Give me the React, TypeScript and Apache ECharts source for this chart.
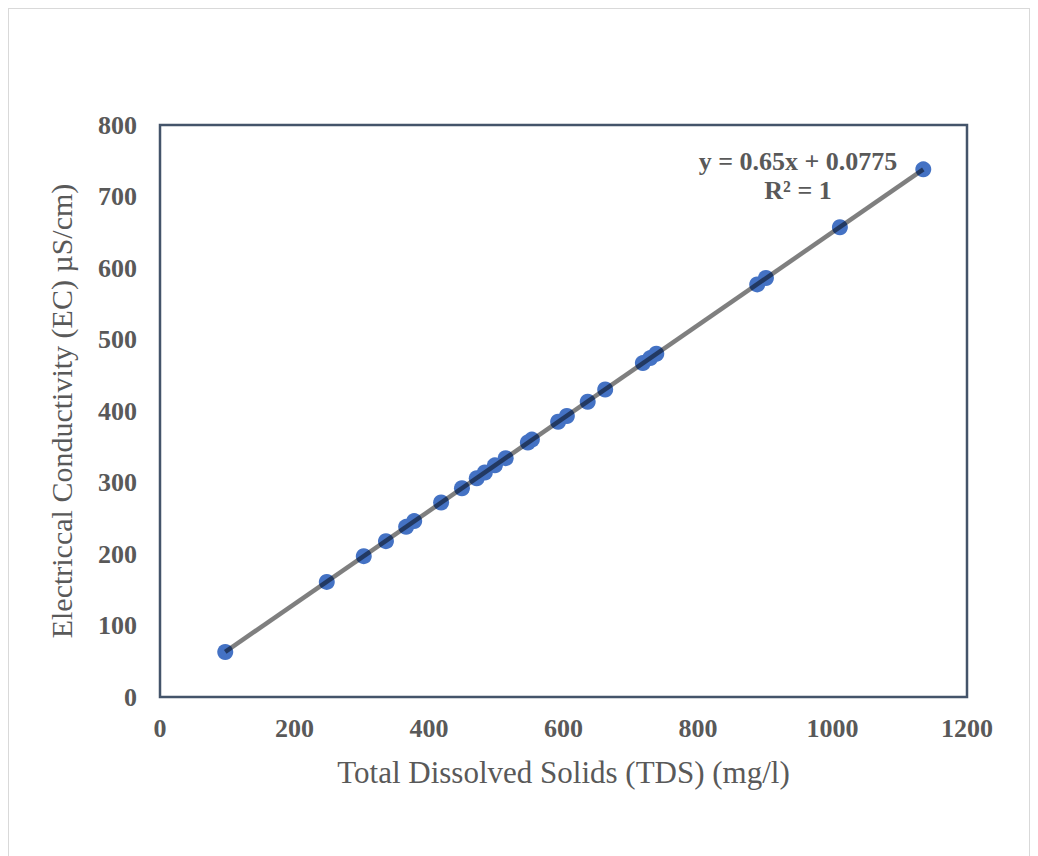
import React, { useEffect, useRef } from "react";
import * as echarts from "echarts";

// TDS (mg/l)
const tds = [97, 248, 303, 336, 366, 378, 418, 449, 471, 483, 498, 514, 547, 553, 592, 605, 636, 662, 718, 729, 738, 888, 901, 1011, 1135];
// EC (µS/cm)
const ec = [63, 161, 197, 218, 238, 246, 272, 292, 306, 314, 324, 334, 356, 360, 385, 393, 413, 430, 467, 474, 480, 577, 586, 657, 738];

const xTicks = [0, 200, 400, 600, 800, 1000, 1200];
const yTicks = [0, 100, 200, 300, 400, 500, 600, 700, 800];

const slope = 0.65;
const intercept = 0.0775;
const equationLines = ["y = 0.65x + 0.0775", "R\u00b2 = 1"];

const xTitle = "Total Dissolved Solids (TDS) (mg/l)";
const yTitle = "Electriccal Conductivity (EC) \u00b5S/cm)";

const FONT = '"Liberation Serif", "Times New Roman", serif';
const TEXT = "#595959";

export default function App() {
  const ref = useRef<HTMLDivElement>(null);

  useEffect(() => {
    if (!ref.current) return;
    const chart = echarts.init(ref.current, undefined, { renderer: "svg" });
    const points = tds.map((x, i) => [x, ec[i]]);
    const xMin = Math.min(...tds);
    const xMax = Math.max(...tds);
    const trend = [
      [xMin, slope * xMin + intercept],
      [xMax, slope * xMax + intercept],
    ];
    chart.setOption({
      animation: false,
      backgroundColor: "#ffffff",
      grid: {
        left: 151,
        top: 116,
        width: 807,
        height: 572,
        show: true,
        borderColor: "#44546A",
        borderWidth: 2.5,
        backgroundColor: "transparent",
      },
      xAxis: {
        type: "value",
        min: xTicks[0],
        max: xTicks[xTicks.length - 1],
        interval: 200,
        axisLine: { show: false },
        axisTick: { show: false },
        splitLine: { show: false },
        axisLabel: {
          color: TEXT,
          fontFamily: FONT,
          fontWeight: "bold",
          fontSize: 26,
          margin: 18,
          formatter: (v: number) => String(v),
        },
        name: xTitle,
        nameLocation: "middle",
        nameGap: 60,
        nameTextStyle: { color: TEXT, fontFamily: FONT, fontSize: 31 },
      },
      yAxis: {
        type: "value",
        min: yTicks[0],
        max: yTicks[yTicks.length - 1],
        interval: 100,
        axisLine: { show: false },
        axisTick: { show: false },
        splitLine: { show: false },
        axisLabel: {
          color: TEXT,
          fontFamily: FONT,
          fontWeight: "bold",
          fontSize: 26,
          margin: 23,
          formatter: (v: number) => String(v),
        },
        name: yTitle,
        nameLocation: "middle",
        nameGap: 84,
        nameTextStyle: { color: TEXT, fontFamily: FONT, fontSize: 30 },
      },
      graphic: [
        {
          type: "text",
          left: 789 - 100,
          top: 138,
          style: {
            text: equationLines.join("\n"),
            fill: TEXT,
            font: `bold 26px ${FONT}`,
            textAlign: "center",
            lineHeight: 29,
            width: 200,
          },
          x: 100,
        },
      ],
      series: [
        {
          type: "scatter",
          data: points,
          symbol: "circle",
          symbolSize: 16,
          itemStyle: { color: "#4472C4", opacity: 1 },
          z: 2,
        },
        {
          type: "line",
          data: trend,
          symbol: "none",
          lineStyle: { color: "rgba(0,0,0,0.5)", width: 4.5 },
          z: 3,
          silent: true,
        },
      ],
    });
    return () => chart.dispose();
  }, []);

  return (
    <div style={{ width: 1020, height: 860, border: "1px solid #d9d9d9", background: "#fff" }}>
      <div ref={ref} style={{ width: 1020, height: 860 }} />
    </div>
  );
}
